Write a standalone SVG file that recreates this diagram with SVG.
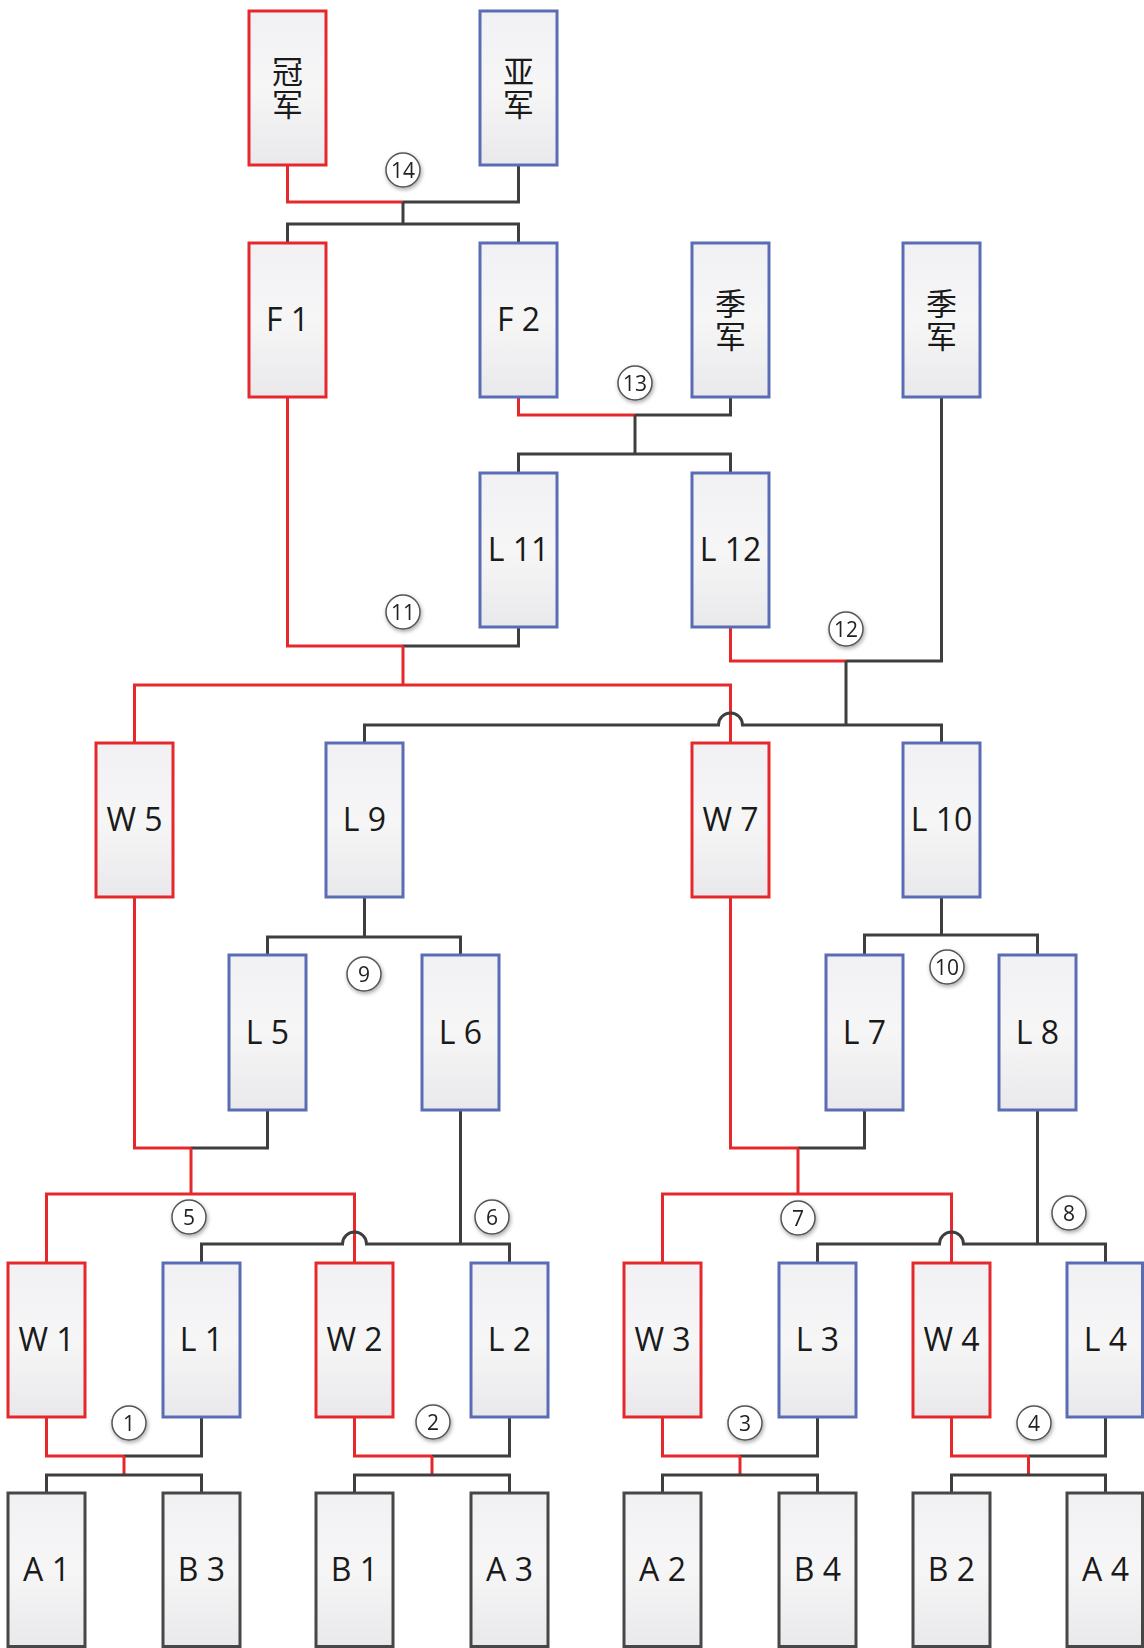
<svg xmlns="http://www.w3.org/2000/svg" width="1144" height="1648" viewBox="0 0 1144 1648">
<defs>
<linearGradient id="fillg" x1="0" y1="0" x2="0" y2="1">
<stop offset="0" stop-color="#f1f1f4"/>
<stop offset="0.5" stop-color="#f6f6f7"/>
<stop offset="1" stop-color="#e9e9eb"/>
</linearGradient>
<filter id="glow" x="-50%" y="-50%" width="200%" height="200%">
<feGaussianBlur in="SourceAlpha" stdDeviation="2"/>
<feOffset dx="1" dy="2" result="b"/>
<feComponentTransfer><feFuncA type="linear" slope="0.35"/></feComponentTransfer>
<feMerge><feMergeNode/><feMergeNode in="SourceGraphic"/></feMerge>
</filter>
</defs>
<style>
.box{fill:url(#fillg);stroke-width:3}
.r{stroke:#e5282c}
.b{stroke:#5a6db4}
.k{stroke:#474747}
.lbl{font-family:"Open Sans","Noto Sans",sans-serif;font-size:32px;fill:#1a1a1a;text-anchor:middle}
.cjk{font-family:"Noto Sans CJK SC",sans-serif;font-size:31px;fill:#1a1a1a;text-anchor:middle;writing-mode:vertical-rl;letter-spacing:2px}
.cr{fill:none;stroke:#e5282c;stroke-width:3}
.ck{fill:none;stroke:#3e3e3e;stroke-width:3}
.num circle{fill:#ffffff;stroke:#555;stroke-width:1.5}
.num text{font-family:"Open Sans","Noto Sans",sans-serif;font-size:21px;fill:#222;text-anchor:middle}
</style>
<rect width="1144" height="1648" fill="#ffffff"/>

<g id="connectors">
<path class="cr" d="M287.5 165 V202 H403"/>
<path class="ck" d="M518.5 165 V202 H403"/>
<path class="ck" d="M403 202 V224"/>
<path class="ck" d="M287.5 243 V224 H518.5 V243"/>
<path class="cr" d="M518.5 397 V415 H635"/>
<path class="ck" d="M730.5 397 V415 H635"/>
<path class="ck" d="M635 415 V454"/>
<path class="ck" d="M518.5 473 V454 H730.5 V473"/>
<path class="cr" d="M287.5 397 V646 H403"/>
<path class="ck" d="M518.5 627 V646 H403"/>
<path class="cr" d="M403 646 V685"/>
<path class="cr" d="M134.5 743 V685 H730.5 V743"/>
<path class="cr" d="M730.5 627 V661 H846"/>
<path class="ck" d="M941.5 397 V661 H846"/>
<path class="ck" d="M846 661 V725"/>
<path class="ck" d="M364.5 743 V725 H718.5 A12 12 0 0 1 742.5 725 H941.5 V743"/>
<path class="ck" d="M364.5 897 V937"/>
<path class="ck" d="M267.5 955 V937 H460.5 V955"/>
<path class="ck" d="M941.5 897 V935"/>
<path class="ck" d="M864.5 955 V935 H1037.5 V955"/>
<path class="cr" d="M134.5 897 V1148 H191"/>
<path class="ck" d="M267.5 1110 V1148 H191"/>
<path class="cr" d="M191 1148 V1194"/>
<path class="cr" d="M46.5 1263 V1194 H354.5 V1263"/>
<path class="ck" d="M460.5 1110 V1244"/>
<path class="ck" d="M201.5 1263 V1244 H342.5 A12 12 0 0 1 366.5 1244 H509.5 V1263"/>
<path class="cr" d="M730.5 897 V1148 H798"/>
<path class="ck" d="M864.5 1110 V1148 H798"/>
<path class="cr" d="M798 1148 V1194"/>
<path class="cr" d="M662.5 1263 V1194 H951.5 V1263"/>
<path class="ck" d="M1037.5 1110 V1244"/>
<path class="ck" d="M817.5 1263 V1244 H939.5 A12 12 0 0 1 963.5 1244 H1105.5 V1263"/>
<path class="cr" d="M46.5 1417 V1456 H124"/>
<path class="ck" d="M201.5 1417 V1456 H124"/>
<path class="cr" d="M124 1456 V1475"/>
<path class="ck" d="M46.5 1493 V1475 H201.5 V1493"/>
<path class="cr" d="M354.5 1417 V1456 H432"/>
<path class="ck" d="M509.5 1417 V1456 H432"/>
<path class="cr" d="M432 1456 V1475"/>
<path class="ck" d="M354.5 1493 V1475 H509.5 V1493"/>
<path class="cr" d="M662.5 1417 V1456 H740"/>
<path class="ck" d="M817.5 1417 V1456 H740"/>
<path class="cr" d="M740 1456 V1475"/>
<path class="ck" d="M662.5 1493 V1475 H817.5 V1493"/>
<path class="cr" d="M951.5 1417 V1456 H1028.5"/>
<path class="ck" d="M1105.5 1417 V1456 H1028.5"/>
<path class="cr" d="M1028.5 1456 V1475"/>
<path class="ck" d="M951.5 1493 V1475 H1105.5 V1493"/>
</g>

<g id="champion"><rect class="box r" x="249" y="11" width="77" height="154"/><text class="cjk" x="287.5" y="89">冠军</text></g>
<g id="runnerup"><rect class="box b" x="480" y="11" width="77" height="154"/><text class="cjk" x="518.5" y="89">亚军</text></g>
<g id="F1"><rect class="box r" x="249" y="243" width="77" height="154"/><text class="lbl" x="287.5" y="331">F 1</text></g>
<g id="F2"><rect class="box b" x="480" y="243" width="77" height="154"/><text class="lbl" x="518.5" y="331">F 2</text></g>
<g id="third1"><rect class="box b" x="692" y="243" width="77" height="154"/><text class="cjk" x="730.5" y="321">季军</text></g>
<g id="third2"><rect class="box b" x="903" y="243" width="77" height="154"/><text class="cjk" x="941.5" y="321">季军</text></g>
<g id="L11"><rect class="box b" x="480" y="473" width="77" height="154"/><text class="lbl" x="518.5" y="561">L 11</text></g>
<g id="L12"><rect class="box b" x="692" y="473" width="77" height="154"/><text class="lbl" x="730.5" y="561">L 12</text></g>
<g id="W5"><rect class="box r" x="96" y="743" width="77" height="154"/><text class="lbl" x="134.5" y="831">W 5</text></g>
<g id="L9"><rect class="box b" x="326" y="743" width="77" height="154"/><text class="lbl" x="364.5" y="831">L 9</text></g>
<g id="W7"><rect class="box r" x="692" y="743" width="77" height="154"/><text class="lbl" x="730.5" y="831">W 7</text></g>
<g id="L10"><rect class="box b" x="903" y="743" width="77" height="154"/><text class="lbl" x="941.5" y="831">L 10</text></g>
<g id="L5"><rect class="box b" x="229" y="955" width="77" height="155"/><text class="lbl" x="267.5" y="1044">L 5</text></g>
<g id="L6"><rect class="box b" x="422" y="955" width="77" height="155"/><text class="lbl" x="460.5" y="1044">L 6</text></g>
<g id="L7"><rect class="box b" x="826" y="955" width="77" height="155"/><text class="lbl" x="864.5" y="1044">L 7</text></g>
<g id="L8"><rect class="box b" x="999" y="955" width="77" height="155"/><text class="lbl" x="1037.5" y="1044">L 8</text></g>
<g id="W1"><rect class="box r" x="8" y="1263" width="77" height="154"/><text class="lbl" x="46.5" y="1351">W 1</text></g>
<g id="L1"><rect class="box b" x="163" y="1263" width="77" height="154"/><text class="lbl" x="201.5" y="1351">L 1</text></g>
<g id="W2"><rect class="box r" x="316" y="1263" width="77" height="154"/><text class="lbl" x="354.5" y="1351">W 2</text></g>
<g id="L2"><rect class="box b" x="471" y="1263" width="77" height="154"/><text class="lbl" x="509.5" y="1351">L 2</text></g>
<g id="W3"><rect class="box r" x="624" y="1263" width="77" height="154"/><text class="lbl" x="662.5" y="1351">W 3</text></g>
<g id="L3"><rect class="box b" x="779" y="1263" width="77" height="154"/><text class="lbl" x="817.5" y="1351">L 3</text></g>
<g id="W4"><rect class="box r" x="913" y="1263" width="77" height="154"/><text class="lbl" x="951.5" y="1351">W 4</text></g>
<g id="L4"><rect class="box b" x="1067" y="1263" width="75.5" height="154"/><text class="lbl" x="1105.5" y="1351">L 4</text></g>
<g id="A1"><rect class="box k" x="8" y="1493" width="77" height="153.5"/><text class="lbl" x="46.5" y="1581">A 1</text></g>
<g id="B3"><rect class="box k" x="163" y="1493" width="77" height="153.5"/><text class="lbl" x="201.5" y="1581">B 3</text></g>
<g id="B1"><rect class="box k" x="316" y="1493" width="77" height="153.5"/><text class="lbl" x="354.5" y="1581">B 1</text></g>
<g id="A3"><rect class="box k" x="471" y="1493" width="77" height="153.5"/><text class="lbl" x="509.5" y="1581">A 3</text></g>
<g id="A2"><rect class="box k" x="624" y="1493" width="77" height="153.5"/><text class="lbl" x="662.5" y="1581">A 2</text></g>
<g id="B4"><rect class="box k" x="779" y="1493" width="77" height="153.5"/><text class="lbl" x="817.5" y="1581">B 4</text></g>
<g id="B2"><rect class="box k" x="913" y="1493" width="77" height="153.5"/><text class="lbl" x="951.5" y="1581">B 2</text></g>
<g id="A4"><rect class="box k" x="1067" y="1493" width="75.5" height="153.5"/><text class="lbl" x="1105.5" y="1581">A 4</text></g>

<g id="match-numbers" class="num">
<g id="m14" filter="url(#glow)"><circle cx="403" cy="170" r="17"/><text x="403" y="177.5">14</text></g>
<g id="m13" filter="url(#glow)"><circle cx="635" cy="383" r="17"/><text x="635" y="390.5">13</text></g>
<g id="m11" filter="url(#glow)"><circle cx="403" cy="612" r="17"/><text x="403" y="619.5">11</text></g>
<g id="m12" filter="url(#glow)"><circle cx="846" cy="629" r="17"/><text x="846" y="636.5">12</text></g>
<g id="m9" filter="url(#glow)"><circle cx="364" cy="974" r="17"/><text x="364" y="981.5">9</text></g>
<g id="m10" filter="url(#glow)"><circle cx="947" cy="967" r="17"/><text x="947" y="974.5">10</text></g>
<g id="m5" filter="url(#glow)"><circle cx="189" cy="1217" r="17"/><text x="189" y="1224.5">5</text></g>
<g id="m6" filter="url(#glow)"><circle cx="492" cy="1217" r="17"/><text x="492" y="1224.5">6</text></g>
<g id="m7" filter="url(#glow)"><circle cx="798" cy="1218" r="17"/><text x="798" y="1225.5">7</text></g>
<g id="m8" filter="url(#glow)"><circle cx="1069" cy="1213" r="17"/><text x="1069" y="1220.5">8</text></g>
<g id="m1" filter="url(#glow)"><circle cx="129" cy="1423" r="17"/><text x="129" y="1430.5">1</text></g>
<g id="m2" filter="url(#glow)"><circle cx="433" cy="1422" r="17"/><text x="433" y="1429.5">2</text></g>
<g id="m3" filter="url(#glow)"><circle cx="745" cy="1423" r="17"/><text x="745" y="1430.5">3</text></g>
<g id="m4" filter="url(#glow)"><circle cx="1034" cy="1423" r="17"/><text x="1034" y="1430.5">4</text></g>
</g>
</svg>
